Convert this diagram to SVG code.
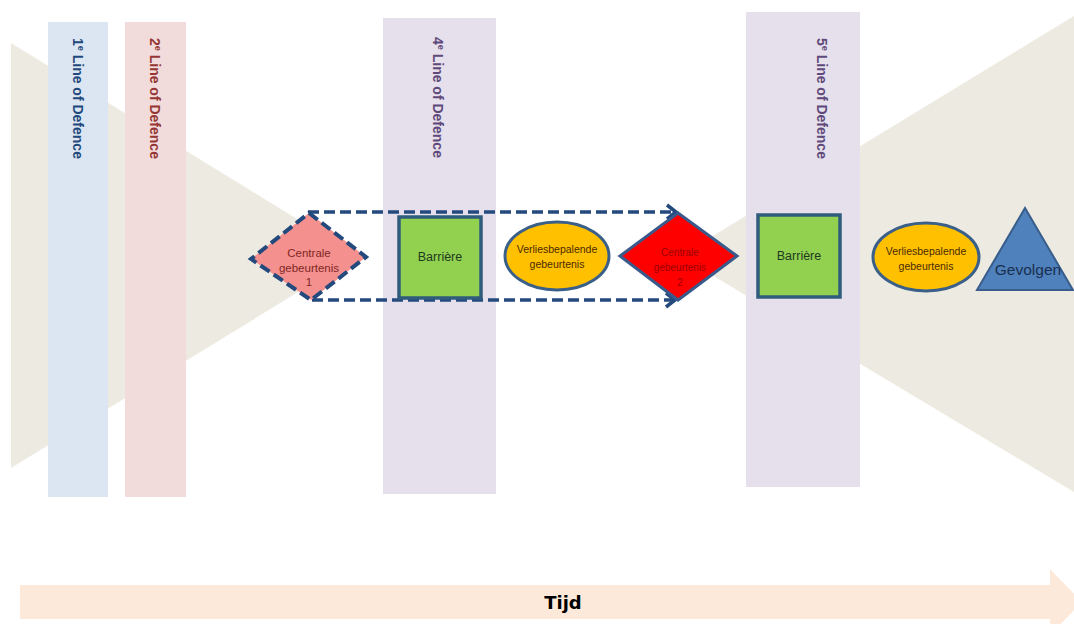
<svg xmlns="http://www.w3.org/2000/svg" width="1074" height="624" viewBox="0 0 1074 624">
<defs>
<style>
.bar{stroke:none}
.vl{font-family:"Liberation Sans",Arial,sans-serif;font-weight:bold;font-size:14px}
.lbl{font-family:"Liberation Sans",Arial,sans-serif;text-anchor:middle}
.dash{fill:none;stroke:#24497D;stroke-width:3.5;stroke-dasharray:11 5}
.barrier{fill:#92D050;stroke:#2F5C7C;stroke-width:3.5}
.loss{fill:#FFC000;stroke:#3A5F88;stroke-width:3}
</style>
<marker id="chev" markerUnits="userSpaceOnUse" markerWidth="20" markerHeight="20" refX="11" refY="9" orient="auto">
<path d="M2,2 L11,9 L2,16" fill="none" stroke="#24497D" stroke-width="3.5"/>
</marker>
</defs>
<rect width="1074" height="624" fill="#FFFFFF"/>
<g id="bowtie">
<polygon points="11,43 357,256 11,468" fill="#EDEBE1"/>
<polygon points="680,256 1074,16 1074,492" fill="#EDEBE1"/>
</g>
<g id="line1">
<rect class="bar" x="48" y="22" width="60" height="475" fill="#DCE6F2"/>
<text class="vl" transform="translate(73,38) rotate(90)" fill="#1F497D">1<tspan font-size="9" dy="-5">e</tspan><tspan dy="5"> Line of Defence</tspan></text>
</g>
<g id="line2">
<rect class="bar" x="125" y="22" width="61" height="475" fill="#F2DCDB"/>
<text class="vl" transform="translate(150,38) rotate(90)" fill="#943634">2<tspan font-size="9" dy="-5">e</tspan><tspan dy="5"> Line of Defence</tspan></text>
</g>
<g id="line4">
<rect class="bar" x="383" y="18" width="113" height="476" fill="#E5E0EC"/>
<text class="vl" transform="translate(433,37) rotate(90)" fill="#5F497A">4<tspan font-size="9" dy="-5">e</tspan><tspan dy="5"> Line of Defence</tspan></text>
</g>
<g id="line5">
<rect class="bar" x="746" y="12" width="114" height="475" fill="#E5E0EC"/>
<text class="vl" transform="translate(817,38) rotate(90)" fill="#5F497A">5<tspan font-size="9" dy="-5">e</tspan><tspan dy="5"> Line of Defence</tspan></text>
</g>
<g id="connectors">
<path class="dash" d="M308,212 L676,212" marker-end="url(#chev)"/>
<path class="dash" d="M312,300 L675,300" marker-end="url(#chev)"/>
</g>
<g id="central1">
<polygon points="309,213 366,257 311,300 251,259" fill="#F4908E" stroke="#24497D" stroke-width="4" stroke-dasharray="11 5"/>
<text class="lbl" font-size="11.5" fill="#7F2725"><tspan x="309" y="257">Centrale</tspan><tspan x="309" y="272">gebeurtenis</tspan><tspan x="309" y="286">1</tspan></text>
</g>
<g id="barrier1">
<rect class="barrier" x="399" y="217" width="82" height="81"/>
<text class="lbl" x="440" y="261" font-size="12.5" fill="#1E3A1E">Barrière</text>
</g>
<g id="loss1">
<ellipse class="loss" cx="557" cy="256" rx="52" ry="34"/>
<text class="lbl" font-size="10.5" fill="#4A2A00"><tspan x="557" y="253">Verliesbepalende</tspan><tspan x="557" y="268">gebeurtenis</tspan></text>
</g>
<g id="central2">
<polygon points="678,213 737,256 678,300 620,256" fill="#FF0000" stroke="#3A5A8C" stroke-width="3"/>
<text class="lbl" font-size="10" fill="#9A0000"><tspan x="680" y="256">Centrale</tspan><tspan x="680" y="271">gebeurtenis</tspan><tspan x="680" y="286">2</tspan></text>
</g>
<g id="barrier2">
<rect class="barrier" x="758" y="215" width="82" height="82"/>
<text class="lbl" x="799" y="260" font-size="12.5" fill="#1E3A1E">Barrière</text>
</g>
<g id="loss2">
<ellipse class="loss" cx="926" cy="257" rx="53" ry="34"/>
<text class="lbl" font-size="10.5" fill="#4A2A00"><tspan x="926" y="255">Verliesbepalende</tspan><tspan x="926" y="270">gebeurtenis</tspan></text>
</g>
<g id="gevolgen">
<polygon points="1025,208 1073,290 977,290" fill="#4F81BD" stroke="#385D8A" stroke-width="2"/>
<text class="lbl" x="1028" y="275" font-size="15.5" fill="#1A2F4F">Gevolgen</text>
</g>
<g id="tijd">
<polygon points="20,585 1050,585 1050,569 1082,602 1050,635 1050,619 20,619" fill="#FDE9D9"/>
<text x="563" y="609" font-family="'DejaVu Sans',Verdana,sans-serif" font-size="18" font-weight="bold" text-anchor="middle" fill="#000000">Tijd</text>
</g>
</svg>
